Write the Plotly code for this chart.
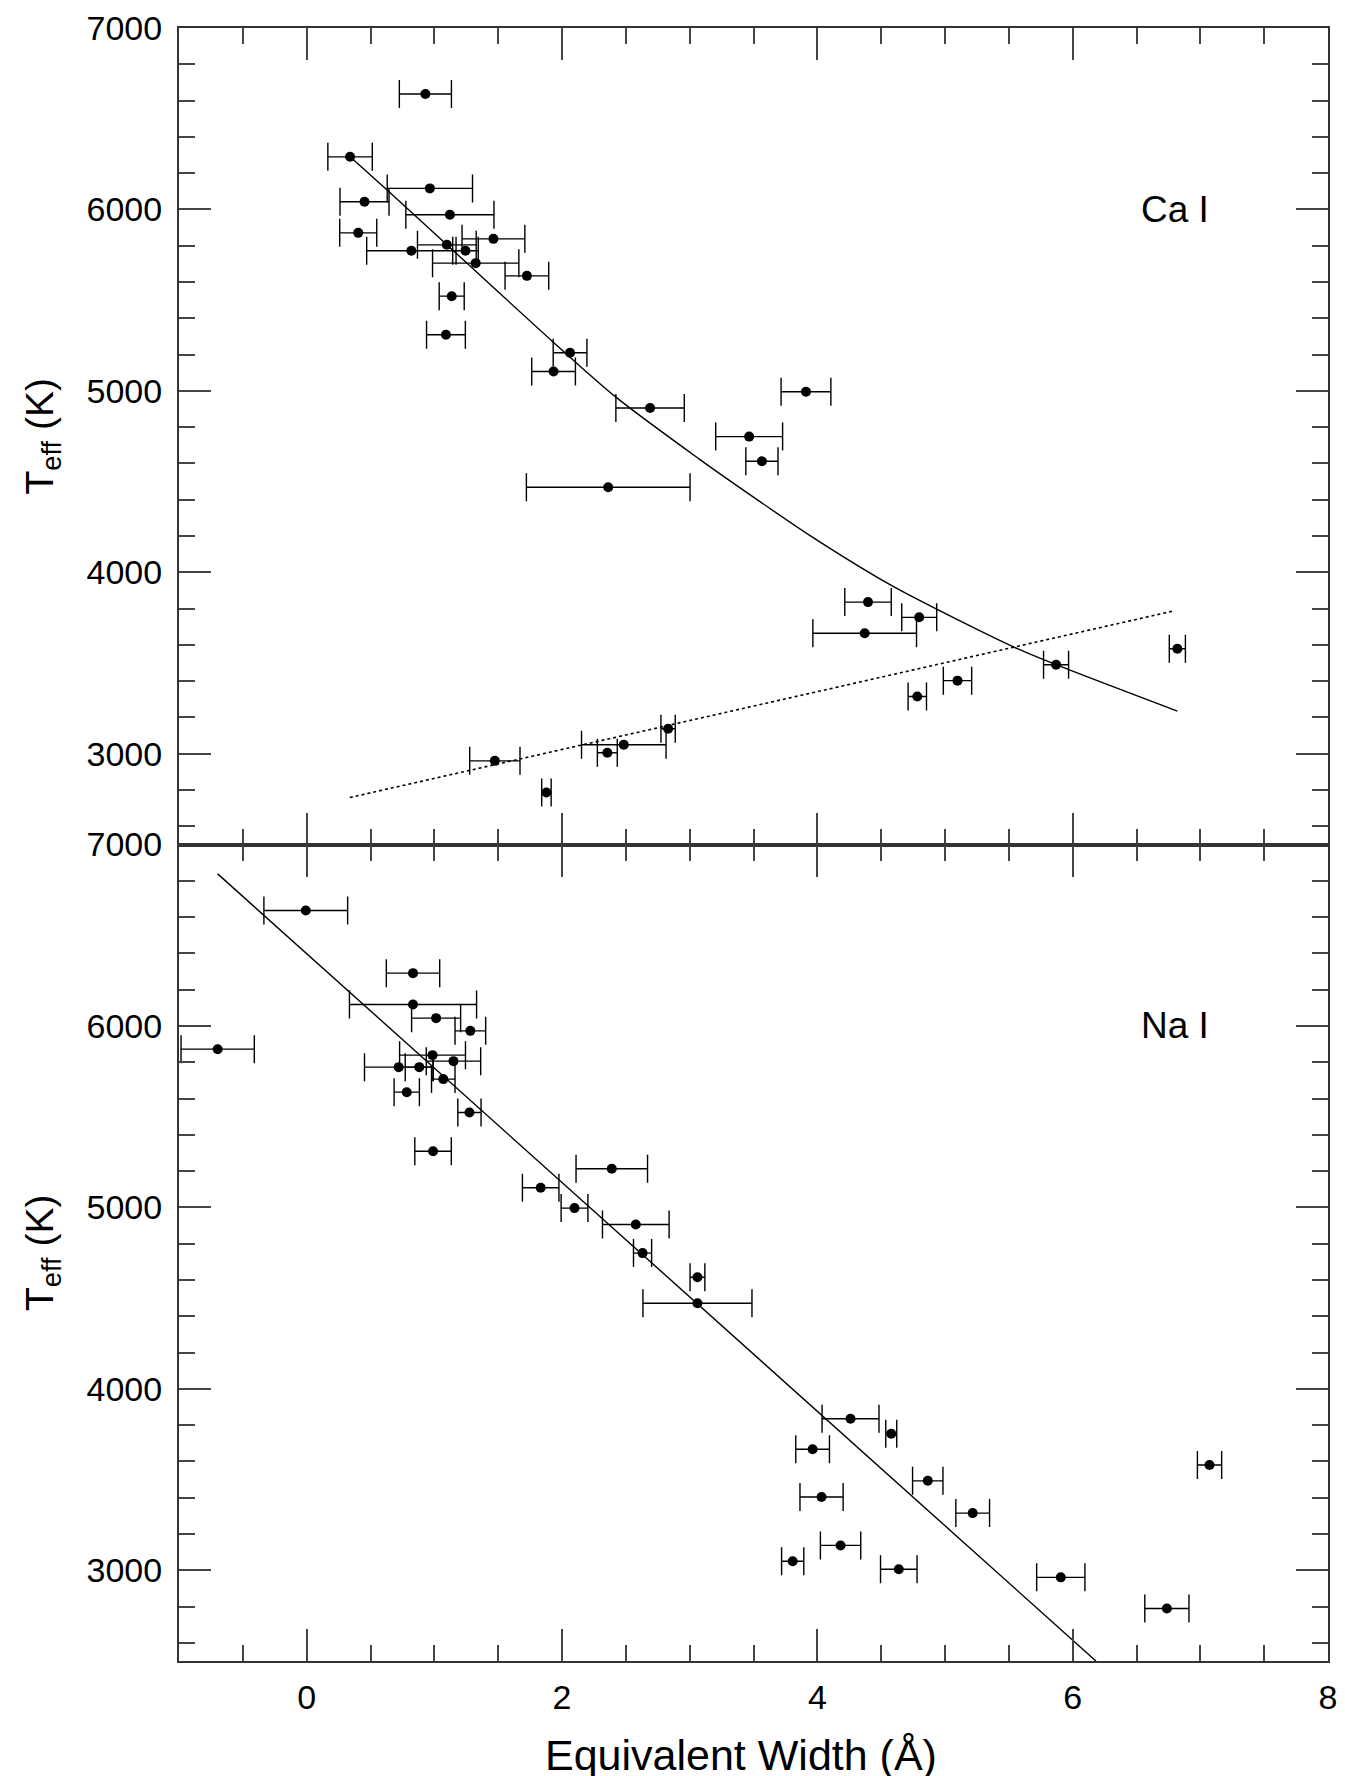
import plotly.graph_objects as go
from plotly.subplots import make_subplots

# ---- data ----
ca_ew = [0.930, 0.340, 0.965, 0.453, 1.122, 0.404, 1.463, 1.098, 0.820, 1.244, 1.324,
         1.725, 1.136, 1.091, 2.063, 1.934, 2.690, 3.911, 3.466, 3.566, 2.362, 4.397,
         4.798, 4.371, 6.820, 5.870, 5.098, 4.783, 2.831, 2.484, 2.355, 1.474, 1.878]
ca_err = [0.204, 0.174, 0.334, 0.192, 0.345, 0.145, 0.246, 0.230, 0.350, 0.100, 0.338,
          0.171, 0.098, 0.152, 0.132, 0.171, 0.268, 0.195, 0.262, 0.126, 0.641, 0.182,
          0.137, 0.406, 0.063, 0.098, 0.111, 0.072, 0.056, 0.331, 0.078, 0.197, 0.037]
ca_teff = [6636, 6290, 6116, 6042, 5971, 5871, 5838, 5805, 5772, 5772, 5704, 5634,
           5522, 5309, 5210, 5107, 4906, 4995, 4748, 4612, 4469, 3836, 3752, 3664,
           3579, 3491, 3403, 3316, 3138, 3050, 3006, 2961, 2787]

na_ew = [-0.007, 0.833, 0.833, 1.014, 1.282, -0.697, 0.986, 1.150, 0.721, 0.882, 1.070,
         0.784, 1.275, 0.990, 2.390, 1.833, 2.098, 2.578, 2.631, 3.061, 3.061, 4.260,
         4.579, 3.963, 7.072, 4.865, 4.033, 5.217, 4.182, 3.807, 4.638, 5.907, 6.738]
na_err = [0.328, 0.209, 0.498, 0.192, 0.120, 0.287, 0.258, 0.213, 0.268, 0.110, 0.092,
          0.099, 0.091, 0.143, 0.280, 0.143, 0.105, 0.261, 0.071, 0.058, 0.427, 0.223,
          0.043, 0.132, 0.095, 0.119, 0.169, 0.132, 0.158, 0.087, 0.143, 0.189, 0.173]
na_teff = [6636, 6291, 6118, 6043, 5973, 5872, 5839, 5806, 5773, 5773, 5707, 5635,
           5523, 5309, 5213, 5108, 4996, 4906, 4748, 4615, 4472, 3835, 3752, 3667,
           3580, 3493, 3404, 3315, 3137, 3050, 3006, 2961, 2789]

# fitted curves
ca_fit_x = [0.34, 0.63, 1.13, 1.93, 2.42, 3.07, 3.46, 3.94, 4.58, 5.11, 5.54, 5.87, 6.82]
ca_fit_t = [6290, 6107, 5785, 5270, 4967, 4627, 4434, 4204, 3928, 3735, 3588, 3491, 3235]
ca_cool_x = [0.338, 6.79]
ca_cool_t = [2759, 3787]
na_fit_x = [-0.697, 6.182]
na_fit_t = [6838, 2500]

x_ticks = [0, 2, 4, 6, 8]
y_ticks = [3000, 4000, 5000, 6000, 7000]

FONT = "Liberation Sans, Arial, Helvetica, sans-serif"
TICKFONT = "Liberation Sans Narrow, Arial Narrow, Liberation Sans, sans-serif"

fig = make_subplots(rows=2, cols=1, shared_xaxes=False, vertical_spacing=0)

def add_panel(row, ew, err, t):
    fig.add_trace(go.Scatter(
        x=ew, y=t, mode="markers",
        marker=dict(color="black", size=10),
        error_x=dict(type="data", array=err, visible=True, color="black",
                     thickness=1.4, width=14),
        showlegend=False, hoverinfo="skip"), row=row, col=1)

add_panel(1, ca_ew, ca_err, ca_teff)
fig.add_trace(go.Scatter(x=ca_fit_x, y=ca_fit_t, mode="lines",
                         line=dict(color="black", width=1.4, shape="spline", smoothing=0.8),
                         showlegend=False, hoverinfo="skip"), row=1, col=1)
fig.add_trace(go.Scatter(x=ca_cool_x, y=ca_cool_t, mode="lines",
                         line=dict(color="black", width=1.6, dash="dot"),
                         showlegend=False, hoverinfo="skip"), row=1, col=1)

add_panel(2, na_ew, na_err, na_teff)
fig.add_trace(go.Scatter(x=na_fit_x, y=na_fit_t, mode="lines",
                         line=dict(color="black", width=1.4),
                         showlegend=False, hoverinfo="skip"), row=2, col=1)

axis_common = dict(showline=True, linecolor="#333", linewidth=2, mirror="ticks",
                   ticks="inside", tickcolor="#444", tickwidth=2, showgrid=False,
                   zeroline=False, automargin=False)

for r in (1, 2):
    fig.update_xaxes(range=[-1, 8], tickvals=x_ticks, ticklen=32,
                     minor=dict(dtick=0.5, tick0=0, ticks="inside", ticklen=16,
                                tickcolor="#444", tickwidth=2, showgrid=False),
                     showticklabels=(r == 2), ticklabelstandoff=5,
                     tickfont=dict(family=TICKFONT, size=34, color="black"),
                     row=r, col=1, **axis_common)
    fig.update_yaxes(range=[2500, 7000], tickvals=y_ticks, ticklen=32,
                     minor=dict(dtick=200, tick0=2600, ticks="inside", ticklen=16,
                                tickcolor="#444", tickwidth=2, showgrid=False),
                     ticklabelstandoff=8,
                     tickfont=dict(family=TICKFONT, size=34, color="black"),
                     row=r, col=1, **axis_common)

fig.update_layout(yaxis=dict(domain=[0.5, 1.0]), yaxis2=dict(domain=[0.0, 0.5]))

annotations = [
    dict(text="Ca I", x=6.8, y=6000, xref="x", yref="y", showarrow=False,
         font=dict(family=FONT, size=37, color="black")),
    dict(text="Na I", x=6.8, y=6000, xref="x2", yref="y2", showarrow=False,
         font=dict(family=FONT, size=37, color="black")),
    dict(text="T<sub>eff</sub> (K)", x=-0.119, y=0.75, xref="paper", yref="paper",
         textangle=-90, showarrow=False, xanchor="center", yanchor="middle",
         font=dict(family=FONT, size=39, color="black")),
    dict(text="T<sub>eff</sub> (K)", x=-0.119, y=0.25, xref="paper", yref="paper",
         textangle=-90, showarrow=False, xanchor="center", yanchor="middle",
         font=dict(family=FONT, size=39, color="black")),
    dict(text="Equivalent Width (Å)", x=(733 - 171) / 1149, y=-(1747 - 1653) / 1633,
         xref="paper", yref="paper", showarrow=False, xanchor="center", yanchor="middle",
         font=dict(family=FONT, size=43, color="black")),
]

fig.update_layout(
    width=1345, height=1776,
    margin=dict(l=171, r=25, t=20, b=123),
    paper_bgcolor="white", plot_bgcolor="white",
    annotations=annotations,
    font=dict(family=FONT, color="black"),
)

fig.write_html("out.html")
